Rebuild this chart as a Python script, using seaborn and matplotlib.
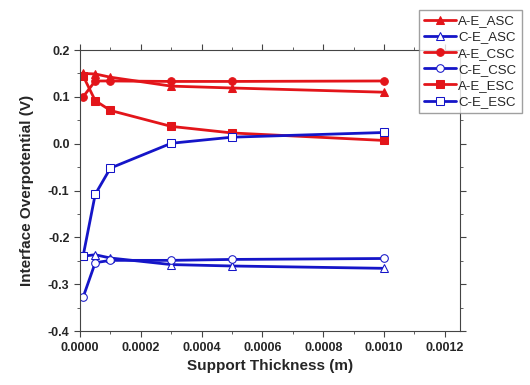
import numpy as np
import pandas as pd
import matplotlib
matplotlib.use("Agg")
import matplotlib.pyplot as plt
import seaborn as sns
from matplotlib.ticker import MultipleLocator

# espessura do suporte (m)
thickness = [0.00001, 0.00005, 0.0001, 0.0003, 0.0005, 0.001]

ae_asc = [0.150, 0.149, 0.142, 0.123, 0.119, 0.110]
ce_asc = [-0.240, -0.237, -0.244, -0.258, -0.261, -0.266]
ae_csc = [0.100, 0.134, 0.134, 0.133, 0.133, 0.134]
ce_csc = [-0.328, -0.254, -0.249, -0.249, -0.247, -0.245]
ae_esc = [0.145, 0.092, 0.071, 0.037, 0.023, 0.007]
ce_esc = [-0.240, -0.108, -0.052, 0.001, 0.014, 0.024]

names = ["A-E_ASC", "C-E_ASC", "A-E_CSC", "C-E_CSC", "A-E_ESC", "C-E_ESC"]
series = [ae_asc, ce_asc, ae_csc, ce_csc, ae_esc, ce_esc]

red = "#e3151a"
blue = "#1515c8"
styles = {
    "A-E_ASC": (red, "^", red),
    "C-E_ASC": (blue, "^", "white"),
    "A-E_CSC": (red, "o", red),
    "C-E_CSC": (blue, "o", "white"),
    "A-E_ESC": (red, "s", red),
    "C-E_ESC": (blue, "s", "white"),
}

df = pd.DataFrame({"x": thickness * len(names),
                   "y": sum(series, []),
                   "serie": np.repeat(names, len(thickness))})

sns.set_style("ticks")
plt.rcParams["font.family"] = ["Liberation Sans", "DejaVu Sans"]
plt.rcParams["font.weight"] = "bold"

fig = plt.figure(figsize=(5.3, 3.85), dpi=100)
ax = fig.add_axes([0.151, 0.140, 0.717, 0.730])

for nome in names:
    cor, mk, face = styles[nome]
    sns.lineplot(data=df[df["serie"] == nome], x="x", y="y", ax=ax,
                 color=cor, marker=mk, markerfacecolor=face,
                 markeredgecolor=cor, markersize=5.5, linewidth=2,
                 label=nome, legend=False)

ax.set_xlim(0, 0.00125)
ax.set_ylim(-0.4, 0.2)
ax.xaxis.set_major_locator(MultipleLocator(0.0002))
ax.xaxis.set_minor_locator(MultipleLocator(0.0001))
ax.yaxis.set_major_locator(MultipleLocator(0.1))
ax.yaxis.set_minor_locator(MultipleLocator(0.05))
ax.xaxis.set_major_formatter(matplotlib.ticker.FormatStrFormatter("%.4f"))
ax.yaxis.set_major_formatter(matplotlib.ticker.FormatStrFormatter("%.1f"))
ax.tick_params(which="both", top=True, right=True, labelsize=9, color="#444444")
ax.tick_params(axis="both", which="both", direction="out")
ax.tick_params(which="major", length=4)
ax.tick_params(which="minor", length=2.5)
for sp in ax.spines.values():
    sp.set_color("#444444")

ax.set_xlabel("Support Thickness (m)", fontsize=11, fontweight="bold")
ax.set_ylabel("Interface Overpotential (V)", fontsize=11, fontweight="bold")
ax.yaxis.set_label_coords(-0.121, 0.5)

handles, labels = ax.get_legend_handles_labels()
leg = fig.legend(handles, labels, loc="upper right", bbox_to_anchor=(0.997, 0.992),
                 frameon=True, fancybox=False, edgecolor="#888888",
                 handlelength=2.4, handletextpad=0.2, labelspacing=0.3,
                 borderpad=0.4, prop={"weight": "normal", "size": 9.5})

fig.savefig("out.png", dpi=100)
